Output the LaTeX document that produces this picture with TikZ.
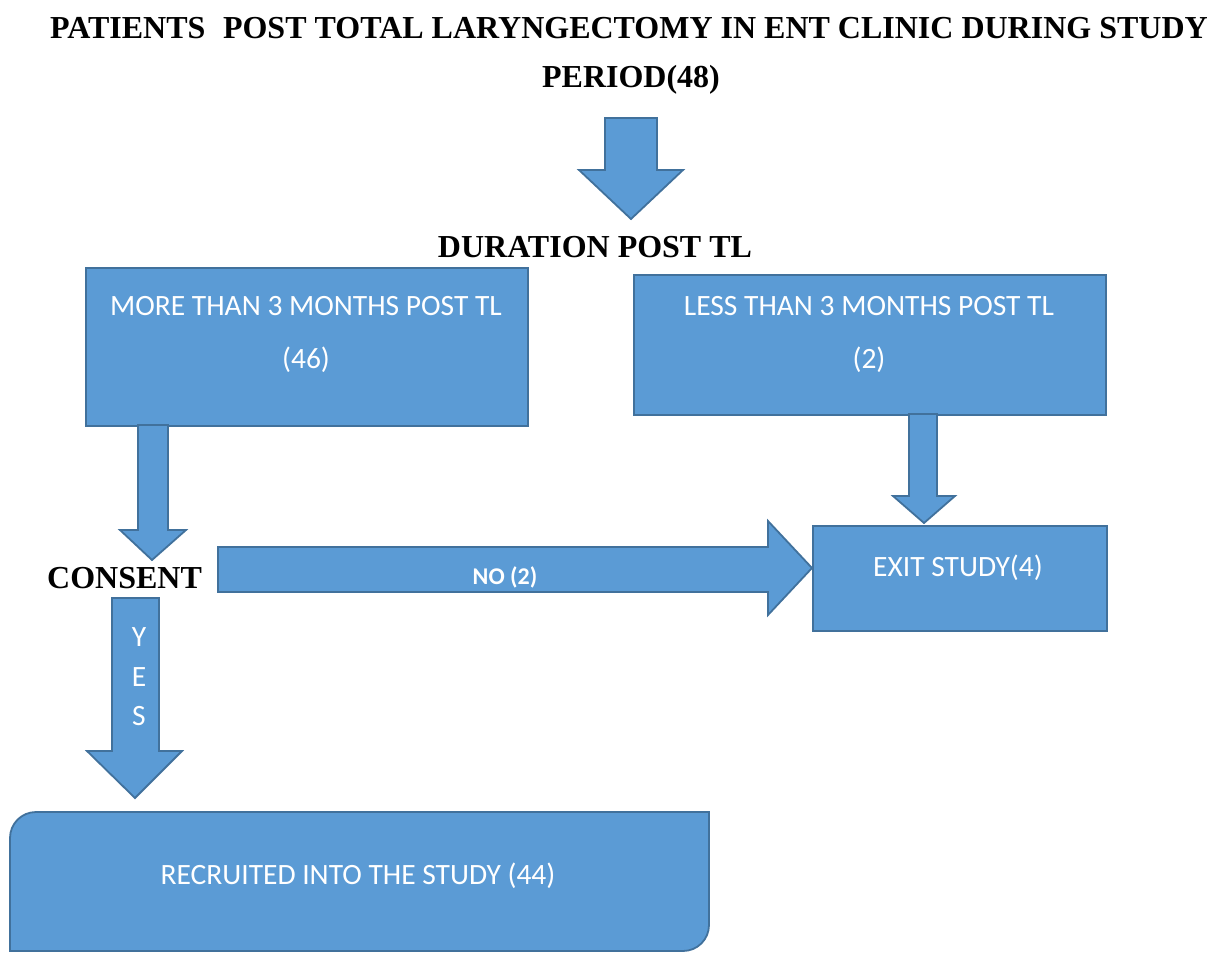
\documentclass[tikz,border=0pt]{standalone}
\usepackage{fontspec}
\setmainfont{Liberation Serif}
\newfontfamily\calfont{Carlito}
\begin{document}
\begin{tikzpicture}[x=1pt,y=-1pt,
  blk/.style={fill=boxblue,draw=edgeblue,line width=1.8pt,line join=miter},
  boxnode/.style={blk,rectangle,inner sep=0pt,anchor=north west},
  ttl/.style={font=\fontsize{32}{36}\selectfont\bfseries,inner sep=0pt},
  lab/.style={font=\calfont\fontsize{29.5}{32}\selectfont,text=white,inner sep=0pt}]
\definecolor{boxblue}{HTML}{5B9BD5}
\definecolor{edgeblue}{HTML}{41719C}
\useasboundingbox (0,0) rectangle (1222,953);
% titles
\node[ttl] (t1) at (629,28) {PATIENTS\hspace{0.3em} POST TOTAL LARYNGECTOMY IN ENT CLINIC DURING STUDY};
\node[ttl] (t2) at (631,80) {PERIOD(48)};
\node[ttl] (dur) at (595,247) {DURATION POST TL};
% top arrow
\draw[blk] (605,118) -- (657,118) -- (657,170) -- (683,170) -- (631,219) -- (579,170) -- (605,170) -- cycle;
% boxes
\node[boxnode,minimum width=442pt,minimum height=158pt] (b1) at (85,267) {};
\node[lab] at (306,306) {MORE THAN 3 MONTHS POST TL};
\node[lab] at (306,360) {(46)};
\node[boxnode,minimum width=472pt,minimum height=140pt] (b2) at (633,274) {};
\node[lab] at (869,306) {LESS THAN 3 MONTHS POST TL};
\node[lab] at (869,360) {(2)};
\node[boxnode,minimum width=294pt,minimum height=105pt] (ex) at (812,525) {};
\node[lab] at (958,568) {EXIT STUDY(4)};
% arrows from boxes
\draw[blk] (138,425) -- (168,425) -- (168,530) -- (186,530) -- (152,560) -- (120,530) -- (138,530) -- cycle;
\draw[blk] (909,414) -- (937,414) -- (937,496) -- (955,496) -- (924,523) -- (893,496) -- (909,496) -- cycle;
% consent
\node[ttl,anchor=west] (con) at (47,578) {CONSENT};
% NO arrow
\draw[blk] (218,547) -- (768,547) -- (768,521) -- (812,568) -- (768,615) -- (768,592) -- (218,592) -- cycle;
\node[font=\calfont\fontsize{24}{26}\selectfont\bfseries,text=white,inner sep=0pt] at (505,577) {NO (2)};
% YES arrow
\draw[blk] (112,598) -- (159,598) -- (159,751) -- (182,751) -- (135,798) -- (87,751) -- (112,751) -- cycle;
\node[lab] at (139,637) {Y};
\node[lab] at (139,677) {E};
\node[lab] at (139,716) {S};
% recruited box
\draw[blk] (10,951) -- (10,838) .. controls (10,823.6) and (21.6,812) .. (36,812) -- (709,812) -- (709,925) .. controls (709,939.4) and (697.4,951) .. (683,951) -- cycle;
\node[lab] (rec) at (358,876) {RECRUITED INTO THE STUDY (44)};
\end{tikzpicture}
\end{document}
